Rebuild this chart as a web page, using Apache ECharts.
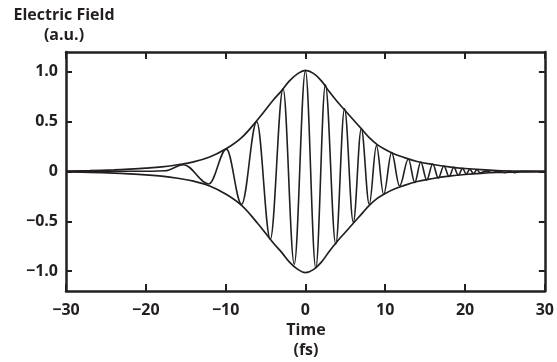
<!DOCTYPE html>
<html>
<head>
<meta charset="utf-8">
<script src="https://cdn.jsdelivr.net/npm/echarts@6/dist/echarts.min.js"></script>
<style>
  html, body { margin: 0; padding: 0; background: #fff; }
  #chart { width: 557px; height: 362px; }
</style>
</head>
<body>
<div id="chart"></div>
<script>
// field oscillation: turning points (time fs, field a.u.)
var waveTime = [-30, -24, -19.5, -17.6, -15.3, -12.1, -9.9, -8.0, -6.1, -4.4, -2.8, -1.4, 0.0, 1.3, 2.5, 3.8,
  4.9, 6.0, 7.0, 8.0, 8.9, 9.8, 10.8, 11.8, 12.9, 13.7, 14.45, 15.2, 15.95, 16.65, 17.35, 18.0, 18.6,
  19.15, 19.7, 20.15, 20.6, 21.05, 21.5, 21.9, 22.6, 23.4, 24.2, 25.0, 25.6, 26.2, 27.0, 30];
var waveField = [0, 0.002, 0.003, 0.008, 0.068, -0.125, 0.225, -0.33, 0.50, -0.68, 0.83, -0.93, 1.01, -0.97, 0.87, -0.73,
  0.63, -0.51, 0.43, -0.33, 0.26, -0.23, 0.19, -0.145, 0.125, -0.11, 0.095, -0.085, 0.075, -0.065, 0.055, -0.05, 0.042,
  -0.037, 0.031, -0.027, 0.024, -0.02, 0.017, -0.014, 0.004, -0.01, 0.003, -0.012, 0.002, -0.012, 0, 0];

// envelope
var envTime = [-30, -27, -24, -22, -20, -18, -16, -14, -12, -10, -8, -6, -4, -3, -2, -1, 0, 1, 2, 3, 4, 5, 6, 7, 8,
  9, 10, 11, 12, 14, 16, 18, 20, 22, 24, 27, 30];
var envUpper = [0.003, 0.008, 0.016, 0.024, 0.034, 0.047, 0.068, 0.097, 0.145, 0.225, 0.34, 0.52, 0.72, 0.81, 0.91, 0.98,
  1.015, 0.985, 0.91, 0.80, 0.70, 0.61, 0.52, 0.43, 0.34, 0.27, 0.22, 0.18, 0.15, 0.10, 0.07, 0.047, 0.03, 0.018, 0.01,
  0.004, 0.001];
var envLower = [-0.003, -0.008, -0.016, -0.024, -0.034, -0.047, -0.068, -0.097, -0.145, -0.225, -0.34, -0.52, -0.72, -0.81,
  -0.91, -0.98, -1.015, -0.985, -0.91, -0.80, -0.70, -0.61, -0.52, -0.43, -0.34, -0.27, -0.22, -0.18, -0.15, -0.10, -0.07,
  -0.047, -0.03, -0.018, -0.01, -0.004, -0.001];

var xTicks = [-30, -20, -10, 0, 10, 20, 30];
var yTicks = [-1, -0.5, 0, 0.5, 1];

var ink = "#231f20";
var font = "'Open Sans', 'Noto Sans', sans-serif";

function pairs(xs, ys) {
  var out = [];
  for (var i = 0; i < xs.length; i++) out.push([xs[i], ys[i]]);
  return out;
}
function minus(s) {
  return s.replace("-", "\u2212");
}

var myChart = echarts.init(document.getElementById("chart"));

var frameX = function (pos, labels) {
  return {
    type: "value",
    position: pos,
    min: -30,
    max: 30,
    interval: 10,
    axisLine: { show: true, onZero: false, lineStyle: { color: ink, width: 2.5 } },
    axisTick: { show: true, inside: true, length: 7, lineStyle: { color: ink, width: 2 } },
    axisLabel: {
      show: labels,
      margin: 11,
      color: ink,
      fontFamily: font,
      fontWeight: "bold",
      fontSize: 16,
      formatter: function (v) { return v === 0 ? "0" : minus(String(v)); },
    },
    splitLine: { show: false },
  };
};
var frameY = function (pos, labels) {
  return {
    type: "value",
    position: pos,
    min: -1.2,
    max: 1.2,
    axisLine: { show: true, onZero: false, lineStyle: { color: ink, width: 2.5 } },
    axisTick: { show: true, inside: true, length: 6, customValues: yTicks, lineStyle: { color: ink, width: 2 } },
    axisLabel: {
      show: labels,
      margin: 8,
      customValues: yTicks,
      color: ink,
      fontFamily: font,
      fontWeight: "bold",
      fontSize: 16,
      formatter: function (v) { return v === 0 ? "0" : minus(v.toFixed(1)); },
    },
    splitLine: { show: false },
  };
};

function label(text, x, y) {
  return {
    type: "text",
    x: x,
    y: y,
    style: { text: text, fill: ink, font: "bold 16px " + font, align: "center", verticalAlign: "middle" },
  };
}

myChart.setOption({
  animation: false,
  grid: { left: 66, right: 9, top: 52, bottom: 71, containLabel: false },
  xAxis: [frameX("bottom", true), frameX("top", false)],
  yAxis: [frameY("left", true), frameY("right", false)],
  graphic: [
    label("Electric Field", 64, 15),
    label("(a.u.)", 64, 35),
    label("Time", 306, 330),
    label("(fs)", 306, 350),
  ],
  series: [
    {
      type: "line",
      data: pairs(envTime, envUpper),
      symbol: "none",
      smooth: 0.4,
      lineStyle: { color: ink, width: 1.7 },
    },
    {
      type: "line",
      data: pairs(envTime, envLower),
      symbol: "none",
      smooth: 0.4,
      lineStyle: { color: ink, width: 1.7 },
    },
    {
      type: "line",
      data: pairs(waveTime, waveField),
      symbol: "none",
      smooth: 0.36,
      smoothMonotone: "x",
      lineStyle: { color: ink, width: 1.6 },
    },
  ],
});
</script>
</body>
</html>
